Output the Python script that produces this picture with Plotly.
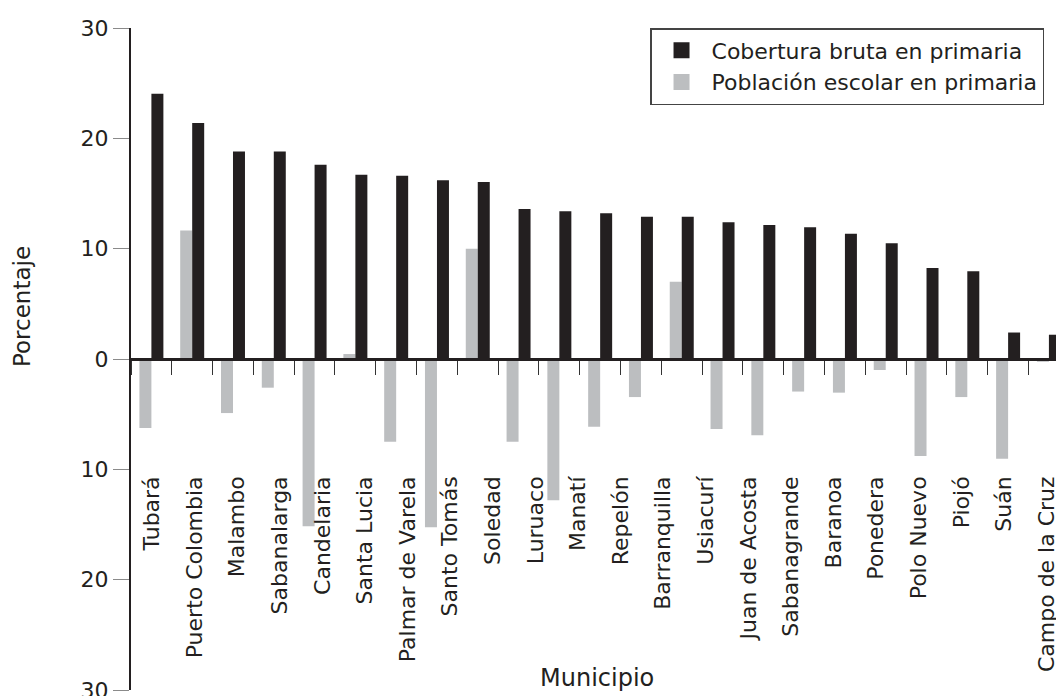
import plotly.graph_objects as go

# ---- data ----
municipios = [
    "Tubará", "Puerto Colombia", "Malambo", "Sabanalarga", "Candelaria",
    "Santa Lucia", "Palmar de Varela", "Santo Tomás", "Soledad", "Luruaco",
    "Manatí", "Repelón", "Barranquilla", "Usiacurí", "Juan de Acosta",
    "Sabanagrande", "Baranoa", "Ponedera", "Polo Nuevo", "Piojó", "Suán",
    "Campo de la Cruz",
]

cobertura = [24.05, 21.4, 18.8, 18.8, 17.6, 16.7, 16.6, 16.2, 16.05, 13.6,
             13.4, 13.2, 12.9, 12.9, 12.4, 12.15, 11.95, 11.35, 10.5, 8.25,
             7.95, 2.4, 2.2]

poblacion = [-6.25, 11.65, -4.9, -2.6, -15.15, 0.45, -7.5, -15.25, 10.0, -7.5,
             -12.8, -6.15, -3.45, 7.0, -6.35, -6.9, -2.95, -3.05, -1.0, -8.8,
             -3.45, -9.05, -0.25]

series_names = ["Cobertura bruta en primaria", "Población escolar en primaria"]

posiciones = list(range(len(cobertura)))
etiquetas_pos = list(range(len(municipios)))

y_ticks = [-30, -20, -10, 0, 10, 20, 30]
y_ticktext = [str(abs(v)) for v in y_ticks]

FONT = "DejaVu Sans"
INK = "#231f20"
GRAY = "#bcbec0"

fig = go.Figure()
# gray first so it sits on the left of each pair
fig.add_trace(go.Bar(x=posiciones, y=poblacion, name=series_names[1],
                     marker=dict(color=GRAY, line=dict(width=0)),
                     showlegend=False, legendgroup="pob"))
fig.add_trace(go.Bar(x=posiciones, y=cobertura, name=series_names[0],
                     marker=dict(color=INK, line=dict(width=0)),
                     showlegend=False, legendgroup="cob"))
# legend keys (larger square swatches)
fig.add_trace(go.Scatter(x=[None], y=[None], mode="markers", name=series_names[0],
                         legendgroup="cob",
                         marker=dict(symbol="square", size=16, color=INK)))
fig.add_trace(go.Scatter(x=[None], y=[None], mode="markers", name=series_names[1],
                         legendgroup="pob",
                         marker=dict(symbol="square", size=16, color=GRAY)))
# carrier for the label axis
fig.add_trace(go.Scatter(x=[None], y=[None], xaxis="x2", yaxis="y",
                         showlegend=False, hoverinfo="skip", mode="markers"))

fig.update_layout(
    width=1056, height=688,
    margin=dict(l=123, r=0, t=20, b=6, pad=0, autoexpand=False),
    paper_bgcolor="white", plot_bgcolor="white",
    font=dict(family=FONT, color=INK, size=22),
    barmode="group", bargap=0.412, bargroupgap=0,
    showlegend=True,
    legend=dict(x=0.5563, y=1.0, xanchor="left", yanchor="top",
                traceorder="normal", bgcolor="white",
                bordercolor="#444444", borderwidth=1.5,
                font=dict(family=FONT, size=22, color=INK),
                itemwidth=50, tracegroupgap=0),
    xaxis=dict(range=[-0.5, 22.37], anchor="free", position=0.5,
               showline=True, linecolor=INK, linewidth=2.5,
               tickmode="linear", tick0=0.5, dtick=1,
               ticks="outside", ticklen=14, tickwidth=1.3, tickcolor="#333333",
               showticklabels=False, showgrid=False, zeroline=False,
               automargin=False),
    xaxis2=dict(overlaying="x", anchor="free", position=0.5, side="bottom",
                range=[-0.493, 21.408],
                tickmode="array", tickvals=etiquetas_pos, ticktext=municipios,
                tickangle=-90, ticks="", showline=False, showgrid=False,
                zeroline=False, ticklabelstandoff=112, automargin=False,
                tickfont=dict(family=FONT, size=22, color=INK)),
    yaxis=dict(range=[-30, 30], tickmode="array", tickvals=y_ticks,
               ticktext=y_ticktext, ticks="outside", ticklen=16,
               tickwidth=1, tickcolor="#8a8a8a",
               showline=True, linecolor=INK, linewidth=2,
               showgrid=False, zeroline=False, ticklabeloverflow="allow",
               automargin=False,
               tickfont=dict(family=FONT, size=22, color=INK)),
    annotations=[
        dict(text="Porcentaje", xref="paper", yref="paper",
             x=-0.1168, y=0.5785, textangle=-90, showarrow=False,
             xanchor="center", yanchor="middle",
             font=dict(family=FONT, size=23, color=INK)),
        dict(text="Municipio", xref="paper", yref="paper",
             x=0.4995, y=0.0181, showarrow=False,
             xanchor="center", yanchor="middle",
             font=dict(family=FONT, size=24, color=INK)),
    ],
)

fig.write_html("out.html")
